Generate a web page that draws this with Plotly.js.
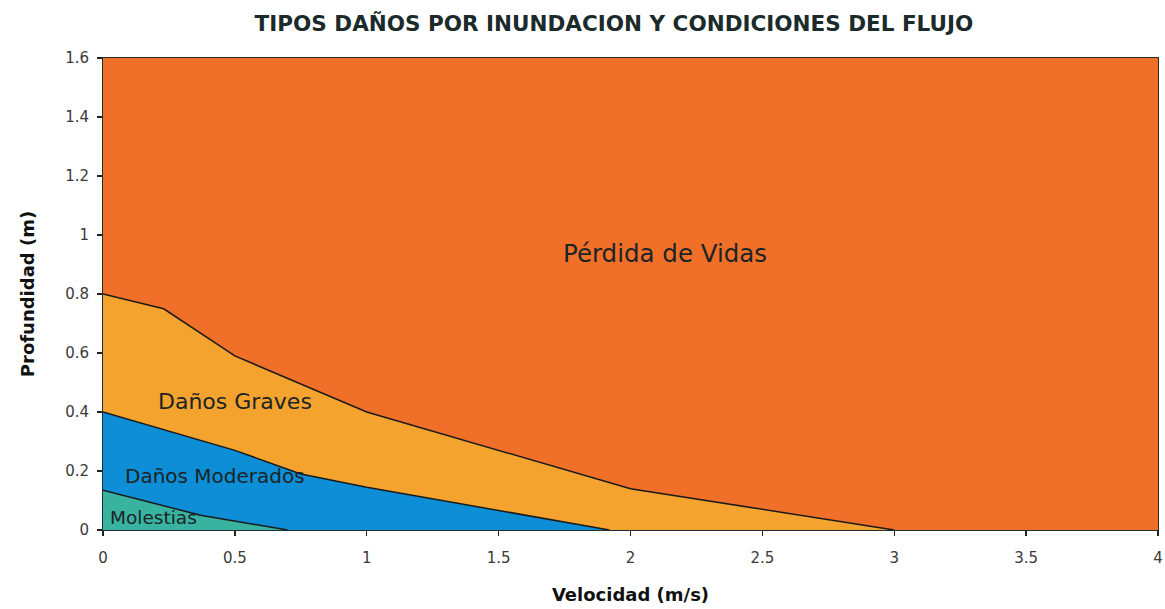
<!DOCTYPE html>
<html>
<head>
<meta charset="utf-8">
<script src="https://cdn.plot.ly/plotly-3.0.1.min.js"></script>
<style>html,body{margin:0;padding:0;background:#fff;overflow:hidden;}#chart{width:1165px;height:609px;}</style>
</head>
<body>
<div id="chart"></div>
<script>
// Zone boundaries (velocity in m/s, depth in m)
const perdidaX = [0, 4];
const perdidaY = [1.6, 1.6];
const gravesX = [0, 0.23, 0.5, 1, 2, 3];
const gravesY = [0.8, 0.75, 0.59, 0.4, 0.14, 0];
const moderadosX = [0, 0.5, 0.75, 1, 1.92];
const moderadosY = [0.4, 0.27, 0.19, 0.145, 0];
const molestiasX = [0, 0.37, 0.7];
const molestiasY = [0.135, 0.05, 0];
const zoneNames = ["Pérdida de Vidas", "Daños Graves", "Daños Moderados", "Molestias"];
const xTicks = [0, 0.5, 1, 1.5, 2, 2.5, 3, 3.5, 4];
const yTicks = [0, 0.2, 0.4, 0.6, 0.8, 1, 1.2, 1.4, 1.6];

const colors = ["#F0702A", "#F4A42E", "#0D8ED7", "#38B3A0"];
const lineColor = "#1a1a1a";

function zone(x, y, c, withLine) {
  return {
    x: x, y: y, type: "scatter", mode: "lines",
    fill: "tozeroy", fillcolor: c,
    line: {color: withLine ? lineColor : c, width: withLine ? 1.5 : 0},
    hoverinfo: "skip", showlegend: false
  };
}

const data = [
  zone(perdidaX, perdidaY, colors[0], false),
  zone(gravesX, gravesY, colors[1], true),
  zone(moderadosX, moderadosY, colors[2], true),
  zone(molestiasX, molestiasY, colors[3], true)
];

const fam = "DejaVu Sans, Verdana, sans-serif";
function lab(size) { return {family: fam, size: size, color: "#1b2424"}; }

const layout = {
  width: 1165, height: 609,
  margin: {l: 103, r: 7, t: 58, b: 79},
  paper_bgcolor: "#fff", plot_bgcolor: "#fff",
  title: {
    text: "<b>TIPOS DAÑOS POR INUNDACION Y CONDICIONES DEL FLUJO</b>",
    x: 0.527, xanchor: "center", y: 0.962, yanchor: "middle",
    font: {family: fam, size: 21.5, color: "#1b2a2a"}
  },
  xaxis: {
    range: [0, 4], tickvals: xTicks, ticktext: xTicks.map(String),
    showgrid: false, zeroline: false,
    showline: true, linecolor: "#1f2f2a", linewidth: 1, mirror: true,
    ticks: "outside", ticklen: 5, tickcolor: "#222", tickwidth: 1.3,
    ticklabelstandoff: 9,
    tickfont: {family: fam, size: 15, color: "#3a3a3a"},
    title: {text: "<b>Velocidad (m/s)</b>", standoff: 22,
      font: {family: fam, size: 18, color: "#111"}}
  },
  yaxis: {
    range: [0, 1.6], tickvals: yTicks, ticktext: yTicks.map(String),
    showgrid: false, zeroline: false,
    showline: true, linecolor: "#1f2f2a", linewidth: 1, mirror: true,
    ticks: "outside", ticklen: 5, tickcolor: "#222", tickwidth: 1.3,
    ticklabelstandoff: 5,
    tickfont: {family: fam, size: 15, color: "#3a3a3a"},
    title: {text: "<b>Profundidad (m)</b>", standoff: 25,
      font: {family: fam, size: 18, color: "#111"}}
  },
  annotations: [
    {x: 2.13, y: 0.939, text: zoneNames[0], showarrow: false, font: lab(24.5)},
    {x: 0.5, y: 0.437, text: zoneNames[1], showarrow: false, font: lab(22)},
    {x: 0.426, y: 0.183, text: zoneNames[2], showarrow: false, font: lab(20)},
    {x: 0.192, y: 0.044, text: zoneNames[3], showarrow: false, font: lab(18.5)}
  ]
};

Plotly.newPlot("chart", data, layout, {displayModeBar: false, staticPlot: true});
</script>
</body>
</html>
